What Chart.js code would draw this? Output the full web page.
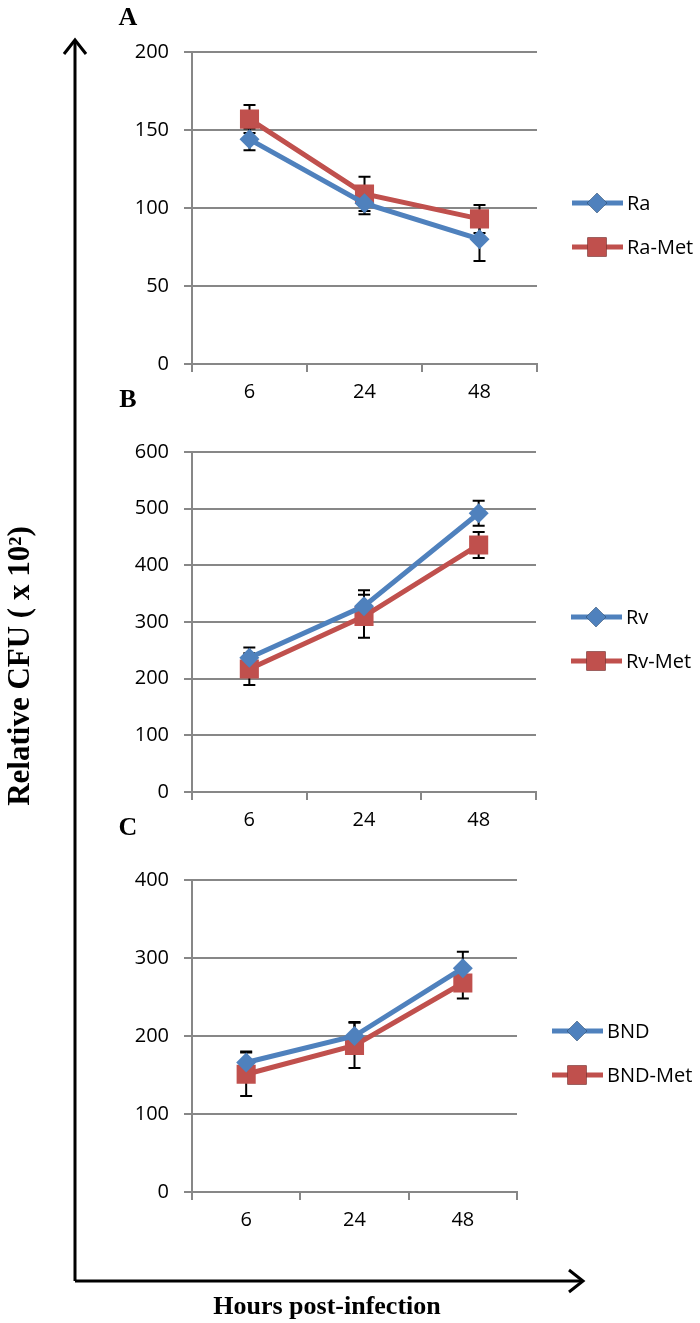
<!DOCTYPE html>
<html>
<head>
<meta charset="utf-8">
<script src="https://cdn.jsdelivr.net/npm/chart.js@4.4.0/dist/chart.umd.min.js"></script>
<style>
  body { margin: 0; background: #fff; }
  #page { position: relative; width: 700px; height: 1323px; overflow: hidden; }
  canvas { position: absolute; left: 0; }
  svg { position: absolute; left: 0; top: 0; pointer-events: none; }
</style>
</head>
<body>
<div id="page">
  <canvas id="chartA" width="700" height="389" style="top:25px"></canvas>
  <canvas id="chartB" width="700" height="417" style="top:425px"></canvas>
  <canvas id="chartC" width="700" height="389" style="top:853px"></canvas>
  <svg width="700" height="1323">
    <g stroke="#000" stroke-width="3" fill="none">
      <line x1="75" y1="1281" x2="75" y2="40"/>
      <polyline points="64,54 75,40 86,54"/>
      <line x1="75" y1="1281" x2="583" y2="1281"/>
      <polyline points="569,1270 583,1281 569,1292"/>
    </g>
    <g font-family="'Liberation Serif', 'DejaVu Serif', serif" font-weight="bold" fill="#000">
      <text x="128" y="25" font-size="26" text-anchor="middle">A</text>
      <text x="128" y="407" font-size="26" text-anchor="middle">B</text>
      <text x="128" y="835" font-size="26" text-anchor="middle">C</text>
      <text x="327" y="1314" font-size="26" text-anchor="middle">Hours post-infection</text>
      <text transform="translate(29,666) rotate(-90)" font-size="31" text-anchor="middle">Relative CFU ( x 10²)</text>
    </g>
  </svg>
</div>
<script>
// hours post-infection
const hours = ['6', '24', '48'];

// panel A
const raMean = [144, 103, 80];
const raErr = [7, 7, 14];
const raMetMean = [157, 109, 93];
const raMetErr = [9, 11, 9];

// panel B
const rvMean = [237, 328, 492];
const rvErr = [18, 28, 22];
const rvMetMean = [217, 310, 436];
const rvMetErr = [28, 38, 23];

// panel C
const bndMean = [166, 200, 287];
const bndErr = [14, 18, 21];
const bndMetMean = [151, 188, 268];
const bndMetErr = [28, 29, 20];

// y axis ranges [max, step]
const yAxisA = [200, 50];
const yAxisB = [600, 100];
const yAxisC = [400, 100];

const blue = '#4F81BD';
const red = '#C0504D';
const gridGray = '#878787';
const tickFont = { family: "'Open Sans', 'Liberation Sans', sans-serif", size: 20 };

// black error bars, drawn under the lines like in excel
const errorBars = {
    id: 'errorBars',
    beforeDatasetsDraw(chart) {
        const ctx = chart.ctx;
        const y = chart.scales.y;
        ctx.save();
        ctx.strokeStyle = '#000';
        ctx.lineWidth = 2;
        chart.data.datasets.forEach((ds, i) => {
            const meta = chart.getDatasetMeta(i);
            ds.errors.forEach((e, j) => {
                const px = meta.data[j].x;
                const top = y.getPixelForValue(ds.data[j] + e);
                const bot = y.getPixelForValue(ds.data[j] - e);
                ctx.beginPath();
                ctx.moveTo(px, top); ctx.lineTo(px, bot);
                ctx.moveTo(px - 6, top); ctx.lineTo(px + 6, top);
                ctx.moveTo(px - 6, bot); ctx.lineTo(px + 6, bot);
                ctx.stroke();
            });
        });
        ctx.restore();
    }
};

// legend with line + marker, to the right of the plot
const sideLegend = {
    id: 'sideLegend',
    afterDraw(chart) {
        const ctx = chart.ctx;
        const area = chart.chartArea;
        const x0 = area.right + 35;
        const midY = (area.top + area.bottom) / 2 + 17;
        ctx.save();
        chart.data.datasets.forEach((ds, i) => {
            const ly = midY + (i === 0 ? -22 : 22);
            ctx.strokeStyle = ds.borderColor;
            ctx.lineWidth = 5;
            ctx.beginPath();
            ctx.moveTo(x0, ly); ctx.lineTo(x0 + 51, ly);
            ctx.stroke();
            Chart.helpers.drawPoint(ctx, {
                pointStyle: ds.pointStyle, radius: ds.pointRadius, borderWidth: 0
            }, x0 + 25, ly);
            ctx.fillStyle = ds.borderColor;
            ctx.fill();
            ctx.fillStyle = '#000';
            ctx.font = "20px 'Open Sans', 'Liberation Sans', sans-serif";
            ctx.textBaseline = 'middle';
            ctx.fillText(ds.label, x0 + 55, ly + 1);
        });
        ctx.restore();
    }
};

function makeChart(id, labels, yAxis, rightPad) {
    const ctx = document.getElementById(id).getContext('2d');
    return new Chart(ctx, {
        type: 'line',
        data: {
            labels: hours,
            datasets: [
                {
                    label: labels[0].name, data: labels[0].mean, errors: labels[0].err,
                    borderColor: blue, backgroundColor: blue, borderWidth: 5,
                    pointStyle: 'rectRot', pointRadius: 10, pointBorderWidth: 0,
                },
                {
                    label: labels[1].name, data: labels[1].mean, errors: labels[1].err,
                    borderColor: red, backgroundColor: red, borderWidth: 5,
                    pointStyle: 'rect', pointRadius: 13.5, pointBorderWidth: 0,
                },
            ],
        },
        options: {
            responsive: false,
            animation: false,
            devicePixelRatio: 1,
            layout: { padding: { top: 12, right: rightPad, bottom: 0, left: 0 } },
            plugins: { legend: { display: false }, tooltip: { enabled: false } },
            scales: {
                x: {
                    offset: true,
                    grid: { offset: true, drawOnChartArea: false, drawTicks: true, tickLength: 8, color: gridGray, lineWidth: 2 },
                    border: { display: true, color: gridGray, width: 2 },
                    ticks: { font: tickFont, color: '#000', padding: 8, maxRotation: 0 },
                    afterFit(scale) { scale.height = 50; },
                },
                y: {
                    min: 0, max: yAxis[0],
                    grid: { color: gridGray, lineWidth: 2, tickLength: 8 },
                    border: { display: true, color: gridGray, width: 2 },
                    ticks: { stepSize: yAxis[1], font: tickFont, color: '#000', padding: 15 },
                    afterFit(scale) { scale.width = 192; },
                },
            },
        },
        plugins: [errorBars, sideLegend],
    });
}

makeChart('chartA', [
    { name: 'Ra', mean: raMean, err: raErr },
    { name: 'Ra-Met', mean: raMetMean, err: raMetErr },
], yAxisA, 163);

makeChart('chartB', [
    { name: 'Rv', mean: rvMean, err: rvErr },
    { name: 'Rv-Met', mean: rvMetMean, err: rvMetErr },
], yAxisB, 164);

makeChart('chartC', [
    { name: 'BND', mean: bndMean, err: bndErr },
    { name: 'BND-Met', mean: bndMetMean, err: bndMetErr },
], yAxisC, 183);
</script>
</body>
</html>
